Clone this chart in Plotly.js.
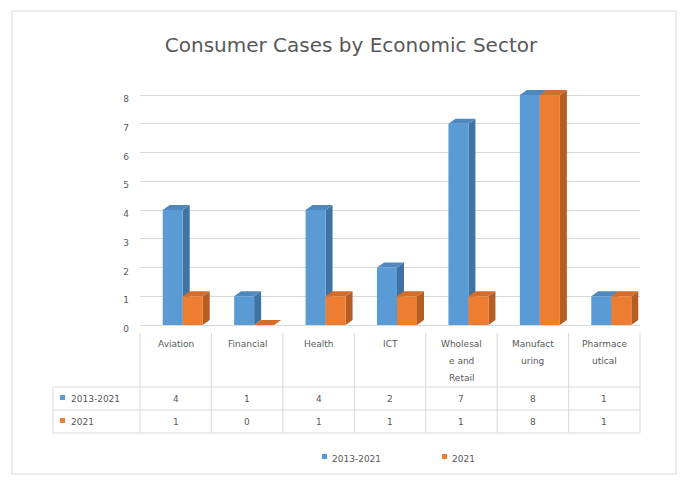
<!DOCTYPE html>
<html><head><meta charset="utf-8">
<script src="https://cdn.plot.ly/plotly-3.0.1.min.js"></script>
<style>html,body{margin:0;padding:0;background:#fff}#chart{width:687px;height:485px}</style>
</head><body><div id="chart"></div>
<script>
// ---- data ----
const categories = ['Aviation','Financial','Health','ICT','Wholesale and Retail','Manufacturing','Pharmaceutical'];
const tickLabels = ['Aviation','Financial','Health','ICT','Wholesal<br>e and<br>Retail','Manufact<br>uring','Pharmace<br>utical'];
const seriesNames = ['2013-2021','2021'];
const values2013_2021 = [4,1,4,2,7,8,1];
const values2021 = [1,0,1,1,1,8,1];
const yTicks = [0,1,2,3,4,5,6,7,8];

// ---- styling / geometry ----
const W = 687, H = 485;
const unit = 28.75;                 // px per y unit
const yMax = 8.35;
const base = 325;                   // pixel y of value 0
const L = 140, R = 47;
const T = Math.round(base - yMax * unit), B = H - base;
const PW = W - L - R, PH = H - T - B;
const px = p => (p - L) / PW;          // pixel x -> paper
const py = p => (H - B - p) / PH;      // pixel y -> paper
const colors = ['#5B9BD5', '#ED7D31'];
const sideColors = ['#3F73A3', '#B65D22'];
const topColors = ['#4E88BF', '#D36D29'];
const textColor = '#595959';
const gridColor = '#D9D9D9';
const font = 'DejaVu Sans, Verdana, sans-serif';

const nCat = categories.length;
const colW = PW / nCat;
const idx = categories.map((c, i) => i);
const series = [values2013_2021, values2021];
const barW = 20 / colW;
const shift = 7 / colW;
const dx = 7 / colW;
const dy = 5 / unit;

const traces = series.map((vals, s) => ({
  type: 'bar', x: idx, y: vals, name: seriesNames[s],
  width: barW, offset: -barW + s * barW + shift,
  marker: {color: colors[s], line: {width: 0}}, hoverinfo: 'skip', showlegend: false
}));

const shapes = [];
// 3D side and top faces derived from data
series.forEach((vals, s) => {
  vals.forEach((v, i) => {
    const x0 = i - barW + s * barW + shift, x1 = x0 + barW;
    shapes.push({type: 'path', xref: 'x', yref: 'y', layer: 'between', line: {width: 0}, fillcolor: sideColors[s],
      path: `M ${x1},0 L ${x1+dx},${dy} L ${x1+dx},${v+dy} L ${x1},${v} Z`});
    shapes.push({type: 'path', xref: 'x', yref: 'y', layer: 'between', line: {width: 0}, fillcolor: topColors[s],
      path: `M ${x0},${v} L ${x0+dx},${v+dy} L ${x1+dx},${v+dy} L ${x1},${v} Z`});
  });
});

// outer chart border
shapes.push({type: 'rect', xref: 'paper', yref: 'paper', x0: px(12), x1: px(676), y0: py(474), y1: py(11),
  line: {color: '#D9D9D9', width: 1}, layer: 'below'});

// data table lines
const lineStyle = {color: gridColor, width: 1};
const colEdges = categories.map((c, i) => L + i * colW).concat([L + PW]);
colEdges.forEach(xp => shapes.push({type: 'line', xref: 'paper', yref: 'paper', x0: px(xp), x1: px(xp), y0: py(333), y1: py(433), line: lineStyle}));
shapes.push({type: 'line', xref: 'paper', yref: 'paper', x0: px(53), x1: px(53), y0: py(387), y1: py(433), line: lineStyle});
[387, 410, 433].forEach(yp => shapes.push({type: 'line', xref: 'paper', yref: 'paper', x0: px(53), x1: px(L + PW), y0: py(yp), y1: py(yp), line: lineStyle}));

const annotations = [];
const small = {family: font, size: 9, color: textColor};
// category labels (wrapped like the original)
tickLabels.forEach((lab, i) => {
  lab.split('<br>').forEach((ln, k) => annotations.push({xref: 'x', yref: 'paper', x: i, y: py(344 + 17 * k),
    xanchor: 'center', yanchor: 'middle', text: ln, showarrow: false, font: small}));
});
const rowY = [399, 422];
series.forEach((vals, s) => {
  // legend key + row label
  shapes.push({type: 'rect', xref: 'paper', yref: 'paper', x0: px(60), x1: px(65), y0: py(rowY[s] + 1), y1: py(rowY[s] - 4),
    fillcolor: colors[s], line: {width: 0}});
  annotations.push({xref: 'paper', yref: 'paper', x: px(69), y: py(rowY[s]), xanchor: 'left', yanchor: 'middle',
    text: seriesNames[s], showarrow: false, font: small});
  vals.forEach((v, i) => annotations.push({xref: 'x', yref: 'paper', x: i, y: py(rowY[s]), xanchor: 'center', yanchor: 'middle',
    text: String(v), showarrow: false, font: small}));
});
// bottom legend
const legX = [322, 442];
seriesNames.forEach((n, s) => {
  shapes.push({type: 'rect', xref: 'paper', yref: 'paper', x0: px(legX[s]), x1: px(legX[s] + 5), y0: py(459), y1: py(454),
    fillcolor: colors[s], line: {width: 0}});
  annotations.push({xref: 'paper', yref: 'paper', x: px(legX[s] + 8), y: py(459), xanchor: 'left', yanchor: 'middle',
    text: n, showarrow: false, font: small});
});

const layout = {
  width: W, height: H,
  margin: {l: L, r: R, t: T, b: B},
  paper_bgcolor: '#fff', plot_bgcolor: '#fff',
  title: {text: 'Consumer Cases by Economic Sector', x: 351 / W, xanchor: 'center', y: 1 - 45 / H, yanchor: 'middle',
    font: {family: font, size: 20, color: textColor}},
  barmode: 'overlay',
  xaxis: {range: [-0.5, nCat - 0.5], tickvals: idx, showticklabels: false, showgrid: false, zeroline: false,
    ticks: '', showline: false, fixedrange: true},
  yaxis: {range: [0, yMax], tickvals: yTicks, showgrid: true, gridcolor: gridColor, zeroline: true, zerolinecolor: gridColor,
    ticks: '', showline: false, ticklabelstandoff: 10, ticklabelshift: 4, tickfont: small, fixedrange: true},
  showlegend: false,
  shapes: shapes, annotations: annotations
};

Plotly.newPlot('chart', traces, layout, {displayModeBar: false, staticPlot: true});
</script></body></html>
